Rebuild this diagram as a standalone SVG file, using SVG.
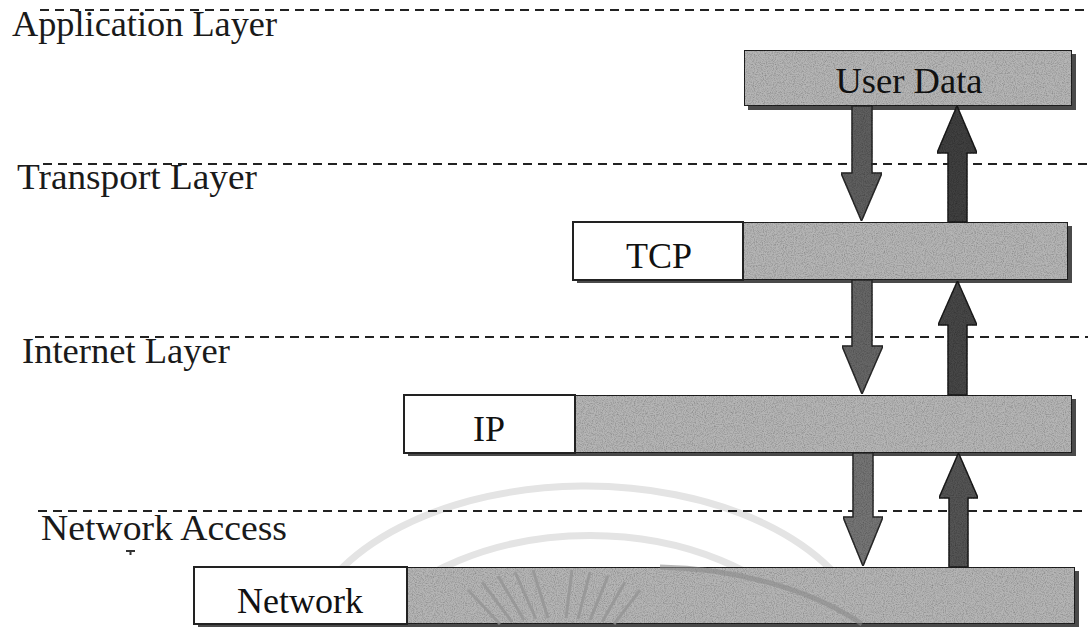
<svg xmlns="http://www.w3.org/2000/svg" width="1088" height="627" viewBox="0 0 1088 627">
  <style>
    .layer-line { stroke: #222; stroke-width: 2; stroke-dasharray: 9 6; fill: none; }
    .layer-label { font-size: 36px; fill: #1a1a1a; }
    .box-label { font-size: 36px; fill: #111; text-anchor: middle; }
    .shadow { fill: #4a4a4a; }
    .payload { fill: #b5b5b5; stroke: #222; stroke-width: 2; filter: url(#grain); }
    .header { fill: #fff; stroke: #222; stroke-width: 2; }
    .down { stroke: #2a2a2a; stroke-width: 1.5; filter: url(#grain); }
    .up { stroke: #1f1f1f; stroke-width: 1.5; filter: url(#grain); }
    .mark { stroke: #e4e4e4; stroke-width: 7; fill: none; }
    .ray { stroke: #959595; stroke-width: 3; }
  </style>
  <defs>
    <!-- speckled halftone look of the shaded fills -->
    <filter id="grain" x="0" y="0" width="100%" height="100%">
      <feTurbulence type="fractalNoise" baseFrequency="0.9" numOctaves="2" seed="4" result="noise"/>
      <feColorMatrix in="noise" type="matrix" values="0 0 0 0 0  0 0 0 0 0  0 0 0 0 0  0 0 0 -0.9 0.55" result="dots"/>
      <feComposite in="dots" in2="SourceGraphic" operator="in" result="dotsIn"/>
      <feMerge>
        <feMergeNode in="SourceGraphic"/>
        <feMergeNode in="dotsIn"/>
      </feMerge>
    </filter>
  </defs>

  <rect width="1088" height="627" fill="#fff"/>

  <!-- faint emblem in the background -->
  <g id="emblem">
    <path class="mark" d="M 305 627 A 285 170 0 0 1 865 622"/>
    <path class="mark" d="M 368 627 A 248 165 0 0 1 812 627"/>
  </g>

  <!-- layer boundaries -->
  <g id="layer-lines">
    <line class="layer-line" x1="40" y1="10" x2="1088" y2="10"/>
    <line class="layer-line" x1="43" y1="164" x2="1088" y2="164"/>
    <line class="layer-line" x1="35" y1="337" x2="1088" y2="337"/>
    <line class="layer-line" x1="38" y1="511" x2="1088" y2="511"/>
  </g>

  <!-- layer names -->
  <g id="layer-labels" font-family="'Liberation Serif', Tinos, 'DejaVu Serif', serif">
    <text class="layer-label" x="12" y="36" textLength="265" lengthAdjust="spacingAndGlyphs">Application Layer</text>
    <text class="layer-label" x="17" y="189" textLength="240" lengthAdjust="spacingAndGlyphs">Transport Layer</text>
    <text class="layer-label" x="22" y="363" textLength="208" lengthAdjust="spacingAndGlyphs">Internet Layer</text>
    <text class="layer-label" x="41" y="540" textLength="246" lengthAdjust="spacingAndGlyphs">Network Access</text>
    <path d="M 126 551 H 135 M 130.5 551 V 555" stroke="#333" stroke-width="2"/>
  </g>

  <!-- application data -->
  <g id="user-data" font-family="'Liberation Serif', Tinos, 'DejaVu Serif', serif">
    <rect class="shadow" x="748" y="54" width="328" height="56"/>
    <rect class="payload" x="744" y="50" width="328" height="56"/>
    <text class="box-label" x="909" y="93" textLength="147" lengthAdjust="spacingAndGlyphs">User Data</text>
  </g>

  <!-- transport segment -->
  <g id="tcp-segment" font-family="'Liberation Serif', Tinos, 'DejaVu Serif', serif">
    <rect class="shadow" x="577" y="226" width="495" height="57"/>
    <rect class="payload" x="743" y="222" width="325" height="58"/>
    <rect class="header" x="573" y="222" width="170" height="58"/>
    <text class="box-label" x="659" y="268">TCP</text>
  </g>

  <!-- internet datagram -->
  <g id="ip-datagram" font-family="'Liberation Serif', Tinos, 'DejaVu Serif', serif">
    <rect class="shadow" x="408" y="399" width="668" height="57"/>
    <rect class="payload" x="575" y="395" width="497" height="58"/>
    <rect class="header" x="404" y="395" width="171" height="58"/>
    <text class="box-label" x="489" y="441">IP</text>
  </g>

  <!-- network frame -->
  <g id="network-frame" font-family="'Liberation Serif', Tinos, 'DejaVu Serif', serif">
    <rect class="shadow" x="198" y="571" width="881" height="57"/>
    <rect class="payload" x="407" y="567" width="668" height="57"/>
    <rect class="header" x="194" y="567" width="213" height="57"/>
    <text class="box-label" x="300" y="613">Network</text>
    <g id="emblem-rays" opacity="0.8">
      <line class="ray" x1="468" y1="590" x2="500" y2="624"/>
      <line class="ray" x1="482" y1="582" x2="512" y2="622"/>
      <line class="ray" x1="498" y1="576" x2="524" y2="620"/>
      <line class="ray" x1="515" y1="572" x2="536" y2="619"/>
      <line class="ray" x1="533" y1="570" x2="548" y2="618"/>
      <line class="ray" x1="572" y1="570" x2="566" y2="618"/>
      <line class="ray" x1="590" y1="572" x2="578" y2="619"/>
      <line class="ray" x1="608" y1="576" x2="590" y2="620"/>
      <line class="ray" x1="625" y1="582" x2="602" y2="622"/>
      <line class="ray" x1="640" y1="590" x2="614" y2="624"/>
    </g>
    <path d="M 660 567 A 285 170 0 0 1 862 624" stroke="#8a8a8a" stroke-width="5" fill="none" opacity="0.6"/>
  </g>

  <!-- encapsulation (down) and decapsulation (up) -->
  <g id="connectors">
    <polygon class="down" fill="#5e5e5e" points="852,106 872,106 872,173 882,173 861.5,221 841,173 852,173"/>
    <polygon class="up" fill="#404040" points="957,106 977,153 967,153 967,222 948,222 948,153 937,153"/>
    <polygon class="down" fill="#666" points="852,280 872,280 872,346 883,346 862,394 842,346 852,346"/>
    <polygon class="up" fill="#474747" points="957.5,281 977,325 967,325 967,395 948,395 948,325 938,325"/>
    <polygon class="down" fill="#757575" points="853,453 873,453 873,517 883,517 863,566 843,517 853,517"/>
    <polygon class="up" fill="#555" points="958.5,453 978,498 968,498 968,567 949,567 949,498 939,498"/>
  </g>
</svg>
